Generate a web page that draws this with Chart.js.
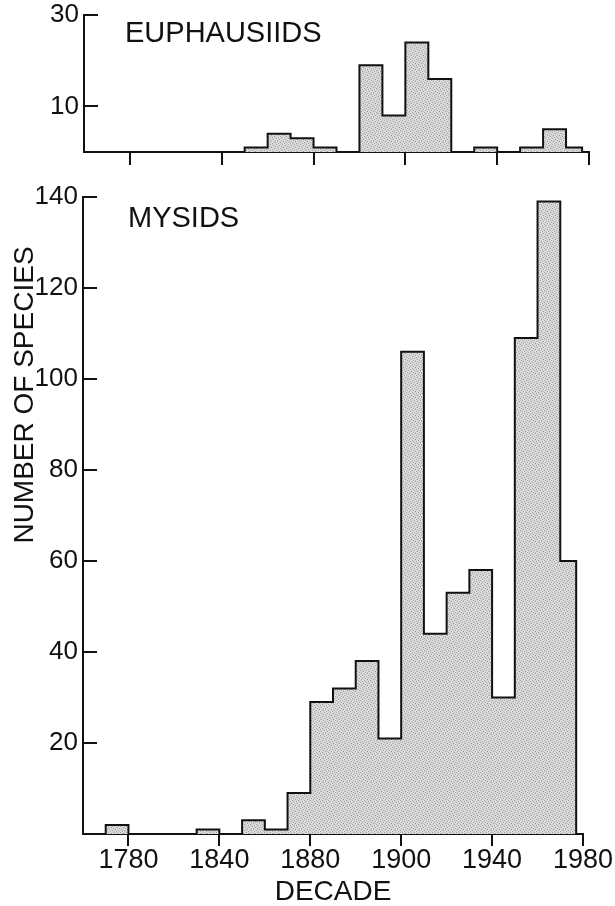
<!DOCTYPE html>
<html>
<head>
<meta charset="utf-8">
<script src="https://cdn.jsdelivr.net/npm/chart.js@4.4.0/dist/chart.umd.min.js"></script>
<style>
  html, body { margin: 0; padding: 0; background: #fff; }
  #wrap { position: relative; width: 615px; height: 906px; overflow: hidden;
          font-family: 'Liberation Sans', Arial, sans-serif; color: #111; }
  #topBox { position: absolute; left: 0; top: 0; width: 615px; height: 180px; }
  #bottomBox { position: absolute; left: 0; top: 160px; width: 615px; height: 746px; }
  .panel-label { position: absolute; font-size: 29px; line-height: 29px; white-space: nowrap; }
  #euphLabel { left: 125px; top: 18px; }
  #mysLabel { left: 128px; top: 203px; }
  #yTitle { position: absolute; left: -136px; top: 381px; width: 320px; text-align: center;
            font-size: 28px; line-height: 28px; white-space: nowrap; transform: rotate(-90deg); }
</style>
</head>
<body>
<div id="wrap">
  <div id="topBox"><canvas id="euphChart" width="615" height="180"></canvas></div>
  <div id="bottomBox"><canvas id="mysChart" width="615" height="746"></canvas></div>
  <div class="panel-label" id="euphLabel">EUPHAUSIIDS</div>
  <div class="panel-label" id="mysLabel">MYSIDS</div>
  <div id="yTitle">NUMBER OF SPECIES</div>
</div>
<script>
/*===================================================================
   Data - one value per decade
==================================================================*/
const decades = [1760, 1770, 1780, 1790, 1800, 1810, 1820, 1830, 1840, 1850, 1860,
                 1870, 1880, 1890, 1900, 1910, 1920, 1930, 1940, 1950, 1960, 1970]
const lastYear = 1977 // last bar only runs part of the decade

const euphausiids = [0, 0, 0, 0, 0, 0, 0, 1, 4, 3, 1,
                     0, 19, 8, 24, 16, 0, 1, 0, 1, 5, 1]
const mysids = [0, 2, 0, 0, 0, 1, 0, 3, 1, 9, 29,
                32, 38, 21, 106, 44, 53, 58, 30, 109, 139, 60]

// tick positions and the labels as printed on the figure
const tickYears = [1780, 1820, 1860, 1900, 1940, 1980]
const tickLabels = ['1780', '1840', '1880', '1900', '1940', '1980']
const euphTicks = [10, 30]
const mysTicks = [20, 40, 60, 80, 100, 120, 140]

const ink = '#111'

/*===================================================================
   pick a narrow face for the numbers if one is installed
==================================================================*/
const pickNumberFont = () => {
  const c = document.createElement('canvas').getContext('2d')
  const probe = '1900 140 80'
  c.font = '40px monospace'
  const base = c.measureText(probe).width
  const candidates = ['Liberation Sans Narrow', 'Arial Narrow']
  for (const f of candidates) {
    c.font = `40px '${f}', monospace`
    if (c.measureText(probe).width !== base) return { family: `'${f}', sans-serif`, size: 29 }
  }
  return { family: "'Liberation Sans', Arial, sans-serif", size: 26 }
}
const numFont = pickNumberFont()

/*===================================================================
   stippled grey fill
==================================================================*/
const makeStipple = () => {
  const tile = document.createElement('canvas')
  tile.width = 6; tile.height = 6
  const c = tile.getContext('2d')
  c.fillStyle = '#dddddd'
  c.fillRect(0, 0, 6, 6)
  c.fillStyle = '#9c9c9c'
  const dots = [[0, 0], [3, 1], [5, 2], [1, 3], [4, 4], [2, 5]]
  dots.forEach(([x, y]) => c.fillRect(x, y, 1, 1))
  c.fillStyle = '#c2c2c2'
  const dots2 = [[2, 1], [4, 0], [0, 4], [5, 5], [3, 3], [1, 2]]
  dots2.forEach(([x, y]) => c.fillRect(x, y, 1, 1))
  return c.createPattern(tile, 'repeat')
}
const stipple = makeStipple()

// step outline points: value holds from decade start to the next point
const stepPoints = (values) =>
  decades.map((d, i) => ({ x: d, y: values[i] })).concat([{ x: lastYear, y: 0 }])

// y tick marks point into the plot on this figure
const innerTicks = {
  id: 'innerTicks',
  afterDraw(chart) {
    const { ctx, chartArea, scales: { y } } = chart
    ctx.save()
    ctx.strokeStyle = ink
    ctx.lineWidth = 2
    y.ticks.forEach(t => {
      const py = Math.round(y.getPixelForValue(t.value))
      ctx.beginPath()
      ctx.moveTo(chartArea.left - 1, py)
      ctx.lineTo(chartArea.left + 14, py)
      ctx.stroke()
    })
    ctx.restore()
  }
}

/*===================================================================
   build one histogram panel
==================================================================*/
const makePanel = (id, values, cfg) => {
  const ctx = document.getElementById(id).getContext('2d')
  return new Chart(ctx, {
    type: 'line',
    data: {
      datasets: [{
        data: stepPoints(values),
        stepped: true,
        fill: 'origin',
        backgroundColor: stipple,
        borderColor: ink,
        borderWidth: 2,
        pointRadius: 0,
        tension: 0
      }]
    },
    plugins: [innerTicks],
    options: {
      responsive: false,
      animation: false,
      events: [],
      layout: { padding: { top: cfg.padTop, right: cfg.padRight, left: 0, bottom: 0 } },
      plugins: { legend: { display: false }, tooltip: { enabled: false } },
      scales: {
        x: {
          type: 'linear',
          min: 1760,
          max: 1980,
          afterBuildTicks: (s) => { s.ticks = tickYears.map(v => ({ value: v })) },
          afterFit: (s) => { s.height = cfg.xHeight },
          grid: { drawOnChartArea: false, drawTicks: true, tickLength: cfg.xTick, color: ink, lineWidth: 2 },
          border: { display: true, color: ink, width: 2 },
          ticks: {
            display: cfg.xLabels,
            autoSkip: false,
            maxRotation: 0,
            padding: 1,
            color: ink,
            font: { family: numFont.family, size: numFont.size + 1, lineHeight: 1 },
            callback: (v) => tickLabels[tickYears.indexOf(v)]
          },
          title: {
            display: cfg.xLabels,
            text: 'DECADE',
            color: ink,
            padding: 0,
            font: { family: "'Liberation Sans', Arial, sans-serif", size: 28, lineHeight: 1 }
          }
        },
        y: {
          min: 0,
          max: cfg.yMax,
          afterBuildTicks: (s) => { s.ticks = cfg.yTicks.map(v => ({ value: v })) },
          afterFit: (s) => {
            s.width = cfg.yWidth
            s.paddingTop = 0
            s.paddingBottom = 0
          },
          grid: { drawOnChartArea: false, drawTicks: false },
          border: { display: true, color: ink, width: 2 },
          ticks: {
            padding: 5,
            color: ink,
            font: { family: numFont.family, size: numFont.size, lineHeight: 1 }
          }
        }
      }
    }
  })
}

makePanel('euphChart', euphausiids, {
  padTop: 15, padRight: 26, xHeight: 28, xTick: 13, xLabels: false,
  yMax: 30, yTicks: euphTicks, yWidth: 84
})

makePanel('mysChart', mysids, {
  padTop: 37, padRight: 32, xHeight: 72, xTick: 12, xLabels: true,
  yMax: 140, yTicks: mysTicks, yWidth: 83
})
</script>
</body>
</html>
